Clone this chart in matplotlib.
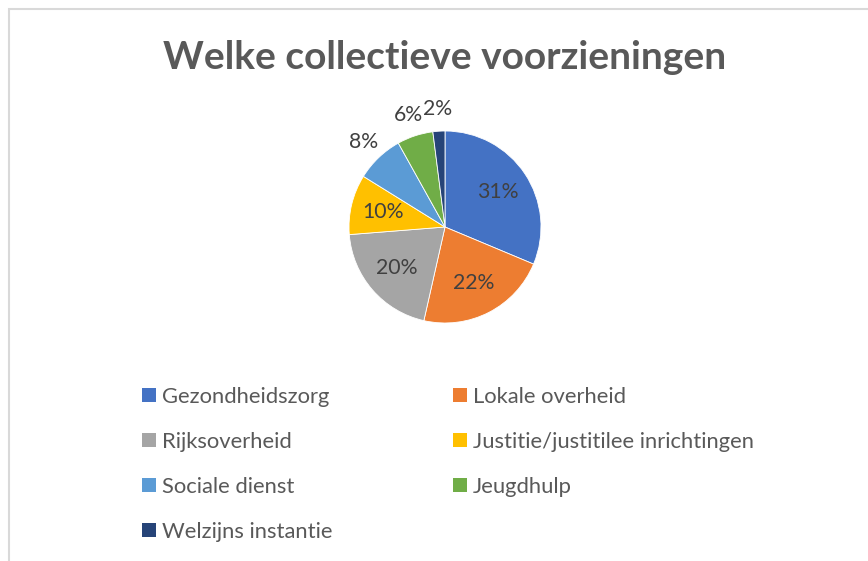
import matplotlib
matplotlib.use("Agg")
import matplotlib.pyplot as plt
from matplotlib.patches import Rectangle
import numpy as np

plt.rcParams["font.family"] = ["Lato", "DejaVu Sans"]

# data
categories = ["Gezondheidszorg", "Lokale overheid", "Rijksoverheid",
              "Justitie/justitilee inrichtingen", "Sociale dienst",
              "Jeugdhulp", "Welzijns instantie"]
shares = [31, 22, 20, 10, 8, 6, 2]
share_labels = ["31%", "22%", "20%", "10%", "8%", "6%", "2%"]
colors = ["#4472C4", "#ED7D31", "#A5A5A5", "#FFC000", "#5B9BD5", "#70AD47", "#264478"]
title = "Welke collectieve voorzieningen"

W, H = 868, 561
fig = plt.figure(figsize=(W / 100, H / 100), dpi=100, facecolor="white")

def fx(px): return px / W
def fy(py): return 1 - py / H

# chart frame (cropped on right/bottom)
fig.patches.append(Rectangle((fx(8.5), -0.1), 1.2, fy(8.5) + 0.1,
                             transform=fig.transFigure, fill=False,
                             edgecolor="#d9d9d9", lw=1.5))

fig.text(fx(445), fy(69), title, ha="center", va="baseline",
         fontsize=28, fontweight="bold", color="#595959")

# pie: centre (445,227), radius 96 px
cx, cy, half = 445, 227, 120
ax = fig.add_axes([fx(cx - half), fy(cy + half), 2 * half / W, 2 * half / H])
wedges, _ = ax.pie(shares, colors=colors, startangle=90, counterclock=False,
                   radius=1, wedgeprops=dict(edgecolor="white", linewidth=0.6))
ax.set_xlim(-1.25, 1.25)
ax.set_ylim(-1.25, 1.25)
ax.set_aspect("equal")
ax.axis("off")

for w, lab, v in zip(wedges, share_labels, shares):
    mid = np.deg2rad((w.theta1 + w.theta2) / 2)
    r = 0.66 if v >= 10 else 1.23
    ax.text(r * np.cos(mid), r * np.sin(mid), lab, ha="center", va="center",
            fontsize=15.3, color="#404040", clip_on=False)

# legend, filled row-wise in two columns
col_x = [142, 453]
row_y = [395, 440, 485, 530]
for i, (name, c) in enumerate(zip(categories, colors)):
    x0 = col_x[i % 2]
    y0 = row_y[i // 2]
    fig.patches.append(Rectangle((fx(x0), fy(y0 + 7)), 14 / W, 14 / H,
                                 transform=fig.transFigure, facecolor=c,
                                 edgecolor="none"))
    fig.text(fx(x0 + 20), fy(y0 + 8), name, ha="left", va="baseline",
             fontsize=15.8, color="#595959")

fig.savefig("out.png", dpi=100, facecolor="white")
